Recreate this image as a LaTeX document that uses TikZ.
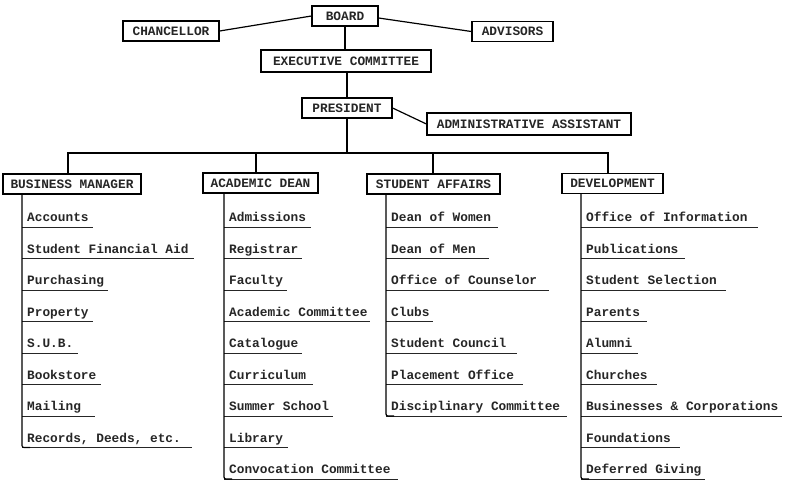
\documentclass[tikz,border=0pt]{standalone}
\usepackage{fontspec}
\newfontfamily\tw{Liberation Mono}
\begin{document}
\begin{tikzpicture}[x=1pt,y=-1pt,
  every node/.style={font=\tw\bfseries\fontsize{12.8}{14}\selectfont, text=black!85},
  box/.style={draw=black, line width=1.2pt, inner sep=0pt, minimum height=20pt, align=center},
  item/.style={anchor=base west, inner sep=0pt},
  conn/.style={line width=1.2pt, black},
  uline/.style={line width=1pt, black!85}]
\useasboundingbox (0,0) rectangle (786,483);
\fill[white] (0,0) rectangle (786,483);
% top
\node[box, minimum width=66pt] (board) at (345,16) {BOARD};
\node[box, minimum width=96pt] (chan) at (171,31) {CHANCELLOR};
\node[box, minimum width=81pt] (adv) at (512.5,31.5) {ADVISORS};
\node[box, minimum width=170pt, minimum height=22pt] (exec) at (346,61) {EXECUTIVE COMMITTEE};
\node[box, minimum width=90pt] (pres) at (347,108) {PRESIDENT};
\node[box, minimum width=204pt, minimum height=22pt] (admin) at (529,124) {ADMINISTRATIVE ASSISTANT};
\draw[conn] (board.west) -- (chan.east);
\draw[conn] ([yshift=-2pt]board.east) -- (adv.west);
\draw[conn] (board.south) -- (board.south |- exec.north);
\draw[conn] (pres.north |- exec.south) -- (pres.north);
\draw[conn] (pres.east) -- (admin.west);
\coordinate (hub) at (347,153);
\draw[conn] (pres.south) -- (hub);
% departments
\node[box, minimum width=138pt] (bm) at (72,184) {BUSINESS MANAGER};
\node[box, minimum width=115pt] (ad) at (260.5,183) {ACADEMIC DEAN};
\node[box, minimum width=133pt] (sa) at (433.5,184) {STUDENT AFFAIRS};
\node[box, minimum width=101pt] (dv) at (612.5,183.5) {DEVELOPMENT};
\draw[conn] ([xshift=-4pt]bm.north) |- (hub);
\draw[conn] ([xshift=-4.5pt]ad.north) |- (hub);
\draw[conn] ([xshift=-0.5pt]sa.north) |- (hub);
\draw[conn] ([xshift=-4.5pt]dv.north) |- (hub);
% columns
\foreach \dep/\sx/\items in {
  bm/22/{Accounts/93,Student Financial Aid/194,Purchasing/108,Property/93,S.U.B./78,Bookstore/101,Mailing/95,Records{,} Deeds{,} etc./192},
  ad/224/{Admissions/311,Registrar/302,Faculty/287,Academic Committee/370,Catalogue/302,Curriculum/313,Summer School/333,Library/288,Convocation Committee/398},
  sa/386/{Dean of Women/498,Dean of Men/489,Office of Counselor/549,Clubs/433,Student Council/517,Placement Office/523,Disciplinary Committee/567},
  dv/581/{Office of Information/758,Publications/685,Student Selection/726,Parents/647,Alumni/638,Churches/657,Businesses \& Corporations/782,Foundations/680,Deferred Giving/705}} {
  \coordinate (\dep top) at (\sx,0);
  \foreach \t/\e [count=\i from 0] in \items {
    \node[item] (\dep\i) at (\sx+5,221.5+31.5*\i) {\t};
    \coordinate (\dep e\i) at (\e,227+31.5*\i);
    \draw[uline] (\dep top |- \dep e\i) -- (\dep e\i);
    \xdef\last{\i}
  }
  \draw[conn, rounded corners=2pt] (\dep top |- \dep.south) -- (\dep top |- \dep e\last) -- ++(8,0);
}
\end{tikzpicture}
\end{document}
